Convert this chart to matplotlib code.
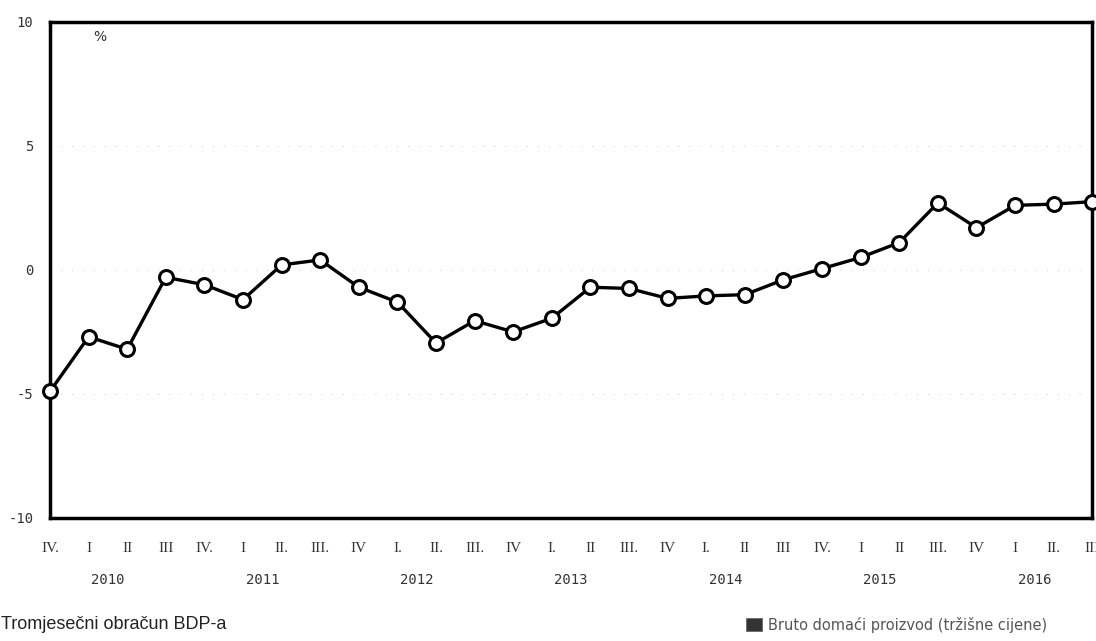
import matplotlib.pyplot as plt
from matplotlib.patches import Rectangle

# quarterly GDP change, %, IV 2009 .. III 2016
quarters = ['IV.', 'I', 'II', 'III', 'IV.', 'I', 'II.', 'III.', 'IV', 'I.', 'II.', 'III.', 'IV',
            'I.', 'II', 'III.', 'IV', 'I.', 'II', 'III', 'IV.', 'I', 'II', 'III.', 'IV', 'I', 'II.', 'III']
values = [-4.9, -2.7, -3.2, -0.3, -0.6, -1.2, 0.2, 0.4, -0.7, -1.3, -2.95, -2.05, -2.5,
          -1.95, -0.7, -0.75, -1.15, -1.05, -1.0, -0.4, 0.05, 0.5, 1.1, 2.7, 1.7, 2.6, 2.65, 2.75]
years = ['2010', '2011', '2012', '2013', '2014', '2015', '2016']
yticks = [-10, -5, 0, 5, 10]

fig = plt.figure(figsize=(10.96, 6.41), dpi=100)
ax = fig.add_axes([0.0456, 0.192, 0.951, 0.774])

x = list(range(len(values)))
ax.plot(x, values, color='black', lw=2.4, marker='o', ms=10,
        mfc='white', mec='black', mew=2.2, zorder=3, clip_on=False)

ax.set_xlim(0, len(values) - 1)
ax.set_ylim(-10, 10)
for s in ax.spines.values():
    s.set_linewidth(2.5)

ax.set_yticks(yticks)
ax.set_yticklabels([str(v) for v in yticks], fontsize=10, color='#333333', family='DejaVu Sans Mono')
ax.tick_params(axis='y', length=0, pad=12)

ax.set_xticks(x)
ax.set_xticklabels(quarters, fontsize=11, color='#333333', family='Liberation Serif')
ax.tick_params(axis='x', length=0, pad=17)

# faint dotted grid as in the scan
ax.grid(axis='y', linestyle=(0, (1, 12)), color='#bbbbbb', lw=0.6)

for i, yr in enumerate(years):
    ax.text(1.5 + 4 * i, -12.5, yr, ha='center', va='center', fontsize=10,
            color='#333333', family='DejaVu Sans Mono', clip_on=False)

ax.text(1.3, 9.4, '%', fontsize=10, color='#333333', ha='center', va='center')

fig.text(0.001, 0.013, 'Tromjesečni obračun BDP-a', fontsize=13, color='#222222',
         family='Liberation Sans', ha='left', va='bottom')
fig.patches.append(Rectangle((0.681, 0.0155), 0.014, 0.021, transform=fig.transFigure,
                             facecolor='#333333', edgecolor='#666666', lw=0.6))
fig.text(0.701, 0.013, 'Bruto domaći proizvod (tržišne cijene)', fontsize=10.5,
         color='#555555', family='DejaVu Sans', ha='left', va='bottom')

fig.savefig('out.png', dpi=100)
